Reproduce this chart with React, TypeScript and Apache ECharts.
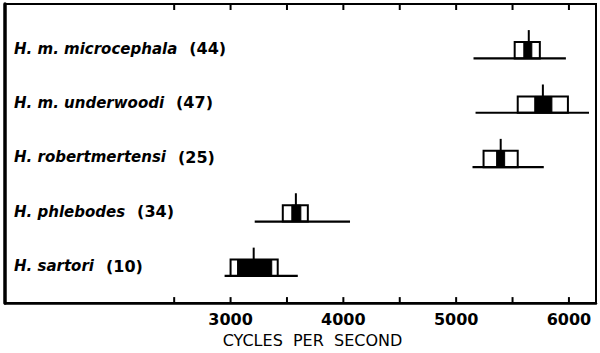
import React, { useEffect, useRef } from "react";
import * as echarts from "echarts";

const species = ["H. m. microcephala", "H. m. underwoodi", "H. robertmertensi", "H. phlebodes", "H. sartori"];
const sampleSizes = [44, 47, 25, 34, 10];
const rangeMin = [5154, 5172, 5145, 3214, 2947];
const rangeMax = [5973, 6178, 5777, 4059, 3596];
const sdLow = [5519, 5546, 5243, 3463, 3000];
const sdHigh = [5742, 5991, 5546, 3685, 3418];
const seLow = [5600, 5697, 5359, 3543, 3062];
const seHigh = [5671, 5849, 5430, 3623, 3365];
const means = [5644, 5769, 5395, 3579, 3205];
const tickValues = [2500, 3000, 3500, 4000, 4500, 5000, 5500, 6000];
const tickLabels = [3000, 4000, 5000, 6000];

const X_MIN = 1000;
const X_MAX = 6240;
const Y_MAX = 5.5;
const LABEL_X = 1080;

export default function App() {
  const ref = useRef<HTMLDivElement>(null);
  useEffect(() => {
    const chart = echarts.init(ref.current!, null, { renderer: "svg" });
    const n = species.length;
    const rowY = (i: number) => n - 0.5 - i;

    const diceData = species.map((_, i) => [i, rowY(i)]);
    const labelData = species.map((s, i) => [LABEL_X, rowY(i) + 0.18, s, sampleSizes[i]]);

    chart.setOption({
      animation: false,
      backgroundColor: "#fff",
      grid: {
        left: 5,
        right: 4,
        top: 4,
        bottom: 42,
        show: true,
        borderColor: "#000",
        borderWidth: 2,
      },
      xAxis: {
        type: "value",
        min: X_MIN,
        max: X_MAX,
        interval: 500,
        splitLine: { show: false },
        axisTick: { show: false },
        axisLine: { show: true, lineStyle: { color: "#000", width: 2.5 } },
        axisLabel: {
          color: "#000",
          fontFamily: "DejaVu Sans",
          fontWeight: "bold",
          fontSize: 16,
          margin: 8,
          showMinLabel: true,
          showMaxLabel: true,
          formatter: (v: number) => (tickLabels.indexOf(v) >= 0 ? String(v) : ""),
        },
        name: "CYCLES  PER  SECOND",
        nameLocation: "middle",
        nameGap: 25,
        nameTextStyle: {
          color: "#000",
          fontFamily: "DejaVu Sans",
          fontSize: 16,
          padding: [0, 0, 0, 24],
        },
      },
      yAxis: {
        type: "value",
        min: 0,
        max: Y_MAX,
        splitLine: { show: false },
        axisTick: { show: false },
        axisLabel: { show: false },
        axisLine: { show: true, lineStyle: { color: "#000", width: 3.5 } },
      },
      series: [
        {
          type: "custom",
          data: diceData,
          renderItem: (params: any, api: any) => {
            const i = api.value(0);
            const y = api.value(1);
            const base = api.coord([rangeMin[i], y]);
            const rEnd = api.coord([rangeMax[i], y]);
            const sL = api.coord([sdLow[i], y])[0];
            const sH = api.coord([sdHigh[i], y])[0];
            const eL = api.coord([seLow[i], y])[0];
            const eH = api.coord([seHigh[i], y])[0];
            const m = api.coord([means[i], y])[0];
            const boxH = api.size([0, 0.3])[1];
            const meanH = api.size([0, 0.52])[1];
            const by = base[1];
            return {
              type: "group",
              children: [
                {
                  type: "rect",
                  shape: { x: sL, y: by - boxH, width: sH - sL, height: boxH },
                  style: { fill: "#fff", stroke: "#000", lineWidth: 2 },
                },
                {
                  type: "rect",
                  shape: { x: eL, y: by - boxH, width: eH - eL, height: boxH },
                  style: { fill: "#000", stroke: "#000", lineWidth: 1 },
                },
                {
                  type: "line",
                  shape: { x1: m, y1: by, x2: m, y2: by - meanH },
                  style: { stroke: "#000", lineWidth: 2 },
                },
                {
                  type: "line",
                  shape: { x1: base[0], y1: by, x2: rEnd[0], y2: by },
                  style: { stroke: "#000", lineWidth: 2.2 },
                },
              ],
            };
          },
        },
        {
          type: "custom",
          data: tickValues.map((v) => [v]),
          renderItem: (params: any, api: any) => {
            const v = api.value(0);
            const b = api.coord([v, 0]);
            const t = api.coord([v, Y_MAX]);
            return {
              type: "group",
              children: [
                { type: "line", shape: { x1: b[0], y1: b[1], x2: b[0], y2: b[1] - 6 }, style: { stroke: "#000", lineWidth: 2 } },
                { type: "line", shape: { x1: t[0], y1: t[1], x2: t[0], y2: t[1] + 6 }, style: { stroke: "#000", lineWidth: 2 } },
              ],
            };
          },
        },
        {
          type: "scatter",
          data: labelData,
          symbolSize: 0,
          silent: true,
          label: {
            show: true,
            position: "right",
            distance: 0,
            color: "#000",
            opacity: 1,
            formatter: (p: any) => `{n|${p.data[2]}}{c|(${p.data[3]})}`,
            rich: {
              n: {
                fontFamily: "DejaVu Sans",
                fontStyle: "italic",
                fontWeight: "bold",
                fontSize: 15,
                color: "#000",
              },
              c: {
                fontFamily: "DejaVu Sans",
                fontWeight: "bold",
                fontSize: 16,
                color: "#000",
                padding: [0, 0, 0, 12],
              },
            },
          },
        },
      ],
    });
    return () => chart.dispose();
  }, []);
  return (
    <div
      ref={ref}
      style={{ position: "fixed", left: 0, top: 0, width: 600, height: 353, background: "#fff" }}
    />
  );
}
